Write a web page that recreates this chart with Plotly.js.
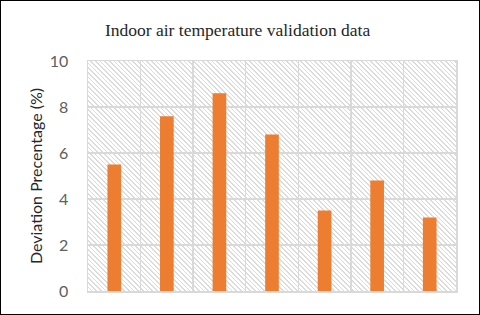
<!DOCTYPE html>
<html>
<head>
<meta charset="utf-8">
<script src="https://cdn.plot.ly/plotly-3.0.1.min.js"></script>
<style>
  html, body { margin: 0; padding: 0; background: #fff; }
  #wrap { position: relative; width: 480px; height: 315px; overflow: hidden; }
  #hatch { position: absolute; left: 88px; top: 61px; width: 368px; height: 230px;
    background: repeating-linear-gradient(45deg, #ffffff 0px, #ffffff 2.3px, #dcdcdc 2.3px, #dcdcdc 3.3px); }
  #chart { position: absolute; left: 0; top: 0; width: 480px; height: 315px; }
  #frame { position: absolute; left: 0; top: 0; width: 480px; height: 315px; box-sizing: border-box;
    border: 1.5px solid #000; pointer-events: none; }
</style>
</head>
<body>
<div id="wrap">
  <div id="hatch"></div>
  <div id="chart"></div>
  <div id="frame"></div>
</div>
<script>
const categories = ['1', '2', '3', '4', '5', '6', '7'];
const deviation = [5.5, 7.6, 8.6, 6.8, 3.5, 4.8, 3.2];
const yTicks = [0, 2, 4, 6, 8, 10];

const trace = {
  type: 'bar',
  x: categories,
  y: deviation,
  width: 0.26,
  marker: { color: '#ED7D31' },
  hoverinfo: 'skip'
};

const layout = {
  width: 480,
  height: 315,
  margin: { l: 88, r: 24, t: 61, b: 24, pad: 0 },
  paper_bgcolor: 'rgba(0,0,0,0)',
  plot_bgcolor: 'rgba(0,0,0,0)',
  showlegend: false,
  title: {
    text: 'Indoor air temperature validation data',
    font: { family: 'Liberation Serif, Times New Roman, serif', size: 17.5, color: '#262626' },
    x: 0.495, xanchor: 'center', xref: 'container',
    y: 0.905, yanchor: 'middle', yref: 'container'
  },
  xaxis: {
    type: 'category',
    tickson: 'boundaries',
    showgrid: true,
    gridcolor: '#d9d9d9',
    gridwidth: 1.5,
    showline: true,
    linecolor: '#d9d9d9',
    linewidth: 1.5,
    mirror: true,
    showticklabels: false,
    ticks: '',
    zeroline: false,
    fixedrange: true
  },
  yaxis: {
    range: [0, 10],
    tickvals: yTicks,
    ticktext: yTicks.map(String),
    showgrid: true,
    gridcolor: '#d9d9d9',
    gridwidth: 1.5,
    zeroline: false,
    showline: true,
    linecolor: '#d9d9d9',
    linewidth: 1.5,
    mirror: true,
    ticks: '',
    ticklabelstandoff: 15,
    tickfont: { family: 'Lato, Calibri, sans-serif', size: 16, color: '#606060' },
    title: {
      text: 'Deviation Precentage (%)',
      font: { family: 'Lato, Calibri, sans-serif', size: 16, color: '#262626' },
      standoff: 3
    },
    fixedrange: true
  }
};

Plotly.newPlot('chart', [trace], layout, { displayModeBar: false, staticPlot: true });
</script>
</body>
</html>
